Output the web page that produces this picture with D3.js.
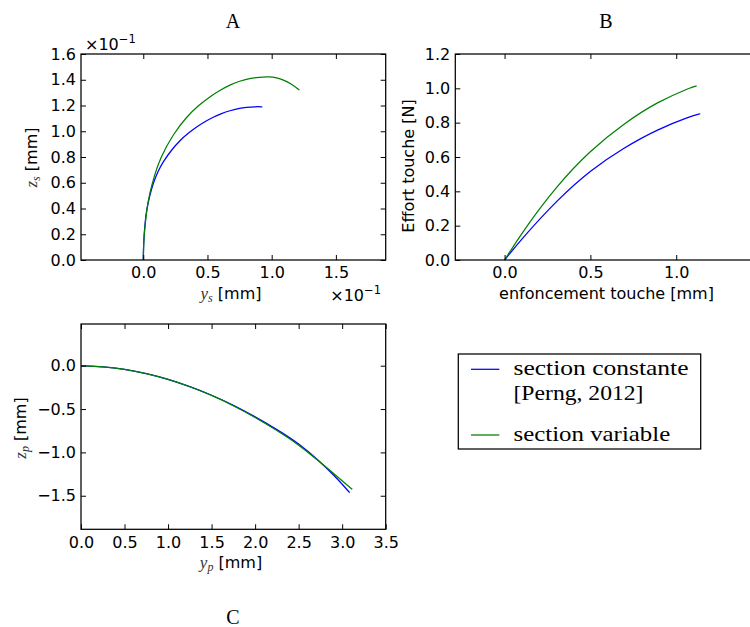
<!DOCTYPE html>
<html><head><meta charset="utf-8">
<script src="https://cdn.jsdelivr.net/npm/d3@7"></script>
<style>body{margin:0;background:#fff}svg{display:block}</style>
</head><body>
<svg id="chart" width="750" height="627"></svg>
<script>
// ---------- DATA ----------
// Panel A (units x10^-1 mm)
const aBlueX = [0, 0.002, 0.007, 0.015, 0.026, 0.05, 0.078, 0.115, 0.156, 0.22, 0.286, 0.35, 0.416, 0.48, 0.545, 0.61, 0.675, 0.74, 0.805, 0.87, 0.927];
const aBlueY = [0, 0.1, 0.2, 0.3, 0.39, 0.5, 0.6, 0.69, 0.765, 0.855, 0.93, 0.985, 1.035, 1.075, 1.11, 1.138, 1.16, 1.177, 1.187, 1.191, 1.19];
const aGreenX = [0, 0.002, 0.006, 0.013, 0.028, 0.05, 0.085, 0.13, 0.234, 0.34, 0.43, 0.52, 0.6, 0.675, 0.75, 0.83, 0.9, 0.98, 1.04, 1.09, 1.15, 1.216];
const aGreenY = [0, 0.1, 0.18, 0.26, 0.4, 0.52, 0.65, 0.79, 0.98, 1.115, 1.2, 1.27, 1.32, 1.36, 1.39, 1.41, 1.42, 1.424, 1.415, 1.40, 1.37, 1.32];
const aXTicks = [0.0, 0.5, 1.0, 1.5];
const aYTicks = [0, 0.2, 0.4, 0.6, 0.8, 1.0, 1.2, 1.4, 1.6];

// Panel B
const bBlueX = [0, 0.111, 0.306, 0.501, 0.696, 0.891, 1.086, 1.14];
const bBlueY = [0, 0.136, 0.349, 0.524, 0.655, 0.762, 0.838, 0.852];
const bGreenX = [0, 0.111, 0.306, 0.501, 0.696, 0.891, 1.086, 1.119];
const bGreenY = [0, 0.175, 0.435, 0.64, 0.796, 0.922, 1.006, 1.014];
const bXTicks = [0.0, 0.5, 1.0];
const bYTicks = [0, 0.2, 0.4, 0.6, 0.8, 1.0, 1.2];

// Panel C
const cBlueX = [0, 0.25, 0.5, 0.75, 1.0, 1.25, 1.5, 1.75, 2.0, 2.25, 2.5, 2.75, 2.9, 3.0, 3.086];
const cBlueY = [0, -0.01, -0.04, -0.088, -0.155, -0.24, -0.338, -0.455, -0.588, -0.735, -0.895, -1.11, -1.26, -1.365, -1.465];
const cGreenX = [0, 0.25, 0.5, 0.75, 1.0, 1.25, 1.5, 1.75, 2.0, 2.25, 2.5, 2.75, 2.9, 3.0, 3.116];
const cGreenY = [0, -0.01, -0.04, -0.088, -0.155, -0.24, -0.34, -0.458, -0.595, -0.745, -0.91, -1.115, -1.24, -1.33, -1.426];
const cXTicks = [0, 0.5, 1.0, 1.5, 2.0, 2.5, 3.0, 3.5];
const cYTicks = [-1.5, -1.0, -0.5, 0.0];

const seriesNames = ["section constante", "[Perng, 2012]", "section variable"];
const seriesColors = ["#0000ff", "#008000"];

// ---------- DRAW ----------
const svg = d3.select("#chart");
const SANS = "DejaVu Sans", SERIF = "Liberation Serif";
const fmt = d3.format(".1f");

function panel(box, xDom, yDom, xTicks, yTicks, series) {
  const x = d3.scaleLinear().domain(xDom).range([box.l, box.r]);
  const y = d3.scaleLinear().domain(yDom).range([box.b, box.t]);
  const g = svg.append("g");
  const line = d3.line().x(d => x(d[0])).y(d => y(d[1])).curve(d3.curveBasis);
  series.forEach(s => {
    g.append("path").datum(d3.zip(s.x, s.y)).attr("d", line)
      .attr("fill", "none").attr("stroke", s.color).attr("stroke-width", 1.25);
  });
  const styleAxis = sel => {
    sel.select(".domain").remove();
    sel.selectAll(".tick line").attr("stroke", "#000").attr("stroke-width", 1);
    sel.selectAll("text").attr("font-family", SANS).attr("font-size", 16).attr("fill", "#000");
  };
  g.append("g").attr("transform", `translate(0,${box.b})`)
    .call(d3.axisBottom(x).tickValues(xTicks).tickFormat(fmt).tickSizeInner(-5).tickSizeOuter(0).tickPadding(7))
    .call(styleAxis);
  g.append("g").attr("transform", `translate(0,${box.t})`)
    .call(d3.axisTop(x).tickValues(xTicks).tickFormat("").tickSizeInner(-5).tickSizeOuter(0))
    .call(styleAxis);
  g.append("g").attr("transform", `translate(${box.l},0)`)
    .call(d3.axisLeft(y).tickValues(yTicks).tickFormat(fmt).tickSizeInner(-5).tickSizeOuter(0).tickPadding(5))
    .call(styleAxis);
  g.append("g").attr("transform", `translate(${box.r},0)`)
    .call(d3.axisRight(y).tickValues(yTicks).tickFormat("").tickSizeInner(-5).tickSizeOuter(0))
    .call(styleAxis);
  g.append("rect").attr("x", box.l).attr("y", box.t)
    .attr("width", box.r - box.l).attr("height", box.b - box.t)
    .attr("fill", "none").attr("stroke", "#000").attr("stroke-width", 1.25);
  return g;
}

const boxA = {l: 81, r: 385.7, t: 54, b: 260};
const boxB = {l: 455.3, r: 760, t: 54, b: 260};
const boxC = {l: 81, r: 385.7, t: 324, b: 529.3};

panel(boxA, [-0.485, 1.888], [0, 1.6], aXTicks, aYTicks, [
  {x: aBlueX, y: aBlueY, color: seriesColors[0]},
  {x: aGreenX, y: aGreenY, color: seriesColors[1]}]);
panel(boxB, [-0.287, 1.488], [0, 1.2], bXTicks, bYTicks, [
  {x: bBlueX, y: bBlueY, color: seriesColors[0]},
  {x: bGreenX, y: bGreenY, color: seriesColors[1]}]);
panel(boxC, [0, 3.5], [-1.887, 0.481], cXTicks, cYTicks, [
  {x: cBlueX, y: cBlueY, color: seriesColors[0]},
  {x: cGreenX, y: cGreenY, color: seriesColors[1]}]);

// titles
function title(t, x, y) {
  svg.append("text").attr("x", x).attr("y", y).attr("text-anchor", "middle")
    .attr("font-family", SERIF).attr("font-size", 20).text(t);
}
title("A", 233, 28);
title("B", 606, 28);
title("C", 233, 624);

// math + unit label
function mathLabel(x, y, v, sub, unit, rotate) {
  const t = svg.append("text").attr("text-anchor", "middle").attr("font-size", 16)
    .attr("transform", rotate ? `translate(${x},${y}) rotate(-90)` : `translate(${x},${y})`);
  t.append("tspan").attr("font-family", SERIF).attr("font-style", "italic").attr("font-size", 17).attr("fill", "#333").text(v);
  t.append("tspan").attr("font-family", SERIF).attr("font-style", "italic").attr("font-size", 12).attr("dy", 3).attr("fill", "#333").text(sub);
  t.append("tspan").attr("font-family", SANS).attr("dy", -3).text("\u00a0" + unit);
}
mathLabel(231, 299, "y", "s", "[mm]", false);
mathLabel(37, 157.5, "z", "s", "[mm]", true);
mathLabel(231, 568, "y", "p", "[mm]", false);
mathLabel(26, 428, "z", "p", "[mm]", true);

svg.append("text").attr("transform", "translate(414,166) rotate(-90)").attr("text-anchor", "middle")
  .attr("font-family", SANS).attr("font-size", 16).text("Effort touche [N]");
svg.append("text").attr("x", 606.5).attr("y", 299).attr("text-anchor", "middle")
  .attr("font-family", SANS).attr("font-size", 16).text("enfoncement touche [mm]");

// offset texts
function offsetText(x, y, anchor) {
  const t = svg.append("text").attr("x", x).attr("y", y).attr("text-anchor", anchor)
    .attr("font-family", SANS).attr("font-size", 16);
  t.append("tspan").text("\u00d710");
  t.append("tspan").attr("font-size", 11.5).attr("dy", -7).text("\u22121");
}
offsetText(85, 50, "start");
offsetText(381, 300.5, "end");

// legend
const lg = svg.append("g");
lg.append("rect").attr("x", 458.3).attr("y", 354).attr("width", 242.4).attr("height", 95)
  .attr("fill", "#fff").attr("stroke", "#000").attr("stroke-width", 1.25);
lg.append("line").attr("x1", 471).attr("x2", 499.3).attr("y1", 369.3).attr("y2", 369.3)
  .attr("stroke", seriesColors[0]).attr("stroke-width", 1.25);
lg.append("line").attr("x1", 471).attr("x2", 499.3).attr("y1", 435).attr("y2", 435)
  .attr("stroke", seriesColors[1]).attr("stroke-width", 1.25);
const legText = [[seriesNames[0], 375, 175], [seriesNames[1], 400, 130], [seriesNames[2], 441, 156.7]];
legText.forEach(([s, yy, len]) => {
  lg.append("text").attr("x", 513.5).attr("y", yy).attr("font-family", SERIF).attr("font-size", 21)
    .attr("textLength", len).attr("lengthAdjust", "spacingAndGlyphs").text(s);
});
</script>
</body></html>
